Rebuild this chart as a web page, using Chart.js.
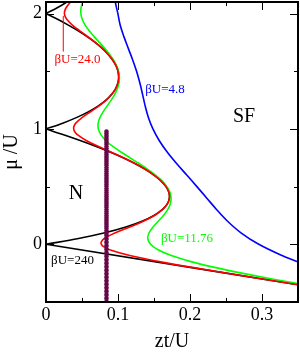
<!DOCTYPE html>
<html>
<head>
<meta charset="utf-8">
<script src="https://cdn.jsdelivr.net/npm/chart.js@4.4.1/dist/chart.umd.min.js"></script>
<style>
  body { margin: 0; background: #fff; }
  canvas { display: block; }
</style>
</head>
<body>
<canvas id="phaseChart" width="300" height="354"></canvas>
<script>
// boundary curves, mu/U on the vertical axis, zt/U on the horizontal one
// betaU = 240 (black), drawn as separate branches so the cusps stay sharp
const muLobe0 = [-0.5, 0];
const ztLobe0 = [0.5, 0];
const muLobe1 = [0, 0.05, 0.1, 0.15, 0.2, 0.25, 0.3, 0.35, 0.4, 0.45, 0.5, 0.55, 0.6, 0.65, 0.7, 0.75, 0.8, 0.85, 0.9, 0.95, 1];
const ztLobe1 = [0, 0.0452, 0.0818, 0.1109, 0.1333, 0.15, 0.1615, 0.1685, 0.1714, 0.1707, 0.1667, 0.1597, 0.15, 0.1379, 0.1235, 0.1071, 0.0889, 0.0689, 0.0474, 0.0244, 0];
const muLobe2 = [1, 1.05, 1.1, 1.15, 1.2, 1.25, 1.3, 1.35, 1.4, 1.45, 1.5, 1.55, 1.6, 1.65, 1.7, 1.75, 1.8, 1.85, 1.9, 1.95, 2];
const ztLobe2 = [0, 0.0232, 0.0429, 0.0593, 0.0727, 0.0833, 0.0913, 0.0968, 0.1, 0.101, 0.1, 0.0971, 0.0923, 0.0858, 0.0778, 0.0682, 0.0571, 0.0447, 0.031, 0.0161, 0];
const muLobe3 = [2, 2.05, 2.1, 2.15];
const ztLobe3 = [0, 0.0156, 0.029, 0.0405];

// betaU = 24.0 (red)
const muRed = [-0.5, -0.4, -0.3, -0.2, -0.15, -0.1, -0.05, -0.02, 0, 0.02, 0.05, 0.1, 0.15, 0.2, 0.25, 0.3, 0.35, 0.4,
  0.45, 0.5, 0.55, 0.6, 0.65, 0.7, 0.75, 0.8, 0.85, 0.9, 0.95, 0.98, 1, 1.02, 1.05, 1.1, 1.15, 1.2, 1.25, 1.3,
  1.35, 1.4, 1.45, 1.5, 1.55, 1.6, 1.65, 1.7, 1.75, 1.8, 1.85, 1.9, 1.95, 1.98, 2, 2.02, 2.05, 2.1, 2.15];
const ztRed = [0.5, 0.4, 0.3004, 0.2028, 0.1573, 0.1178, 0.0894, 0.0799, 0.0769, 0.0767, 0.0809, 0.0964, 0.1163, 0.1352, 0.1506, 0.1617, 0.1686, 0.1714,
  0.1707, 0.1667, 0.1597, 0.15, 0.1379, 0.1237, 0.1076, 0.0901, 0.0723, 0.0558, 0.0436, 0.0395, 0.0385, 0.0387, 0.0414, 0.0505, 0.0622, 0.0737, 0.0837, 0.0914,
  0.0968, 0.1, 0.101, 0.1, 0.0971, 0.0923, 0.0858, 0.0779, 0.0685, 0.0579, 0.0469, 0.0366, 0.0288, 0.0263, 0.0256, 0.0259, 0.0279, 0.0342, 0.0424];

// betaU = 11.76 (green)
const muGreen = [-0.5, -0.4, -0.3, -0.25, -0.2, -0.15, -0.1, -0.05, 0, 0.05, 0.1, 0.15, 0.2, 0.25, 0.3, 0.35, 0.4,
  0.45, 0.5, 0.55, 0.6, 0.65, 0.7, 0.75, 0.8, 0.85, 0.9, 0.95, 1, 1.05, 1.1, 1.15, 1.2, 1.25, 1.3, 1.35, 1.4,
  1.45, 1.5, 1.55, 1.6, 1.65, 1.7, 1.75, 1.8, 1.85, 1.9, 1.95, 2, 2.05, 2.1, 2.15];
const ztGreen = [0.502, 0.405, 0.3138, 0.2717, 0.2339, 0.2012, 0.175, 0.1563, 0.1453, 0.1414, 0.1432, 0.1487, 0.1559, 0.1631, 0.169, 0.1726, 0.1737,
  0.1722, 0.1679, 0.1611, 0.1521, 0.1412, 0.1292, 0.1165, 0.104, 0.0924, 0.0829, 0.0762, 0.0727, 0.0725, 0.075, 0.0795, 0.085, 0.0906, 0.0955, 0.0992, 0.1014,
  0.1019, 0.1008, 0.0979, 0.0935, 0.0879, 0.0814, 0.0741, 0.0668, 0.06, 0.0543, 0.0503, 0.0484, 0.0487, 0.0508, 0.0543];

// betaU = 4.8 (blue)
const muBlue = [-0.2, -0.15, -0.1, 0, 0.1, 0.2, 0.3, 0.4, 0.5, 0.6, 0.7, 0.8, 0.9, 1, 1.1, 1.2, 1.3, 1.4, 1.5, 1.6, 1.7, 1.8, 1.9, 2, 2.1, 2.2];
const ztBlue = [0.372, 0.3488, 0.3286, 0.2955, 0.2708, 0.2522, 0.2371, 0.2234, 0.2096, 0.1955, 0.1814, 0.1683, 0.1572, 0.1485, 0.1422, 0.1377, 0.1341, 0.1303, 0.1258, 0.1203, 0.1142, 0.1082, 0.103, 0.0998, 0.0963, 0.0947];

// the dotted vertical cut: dense part on top, looser dots below
const muCutUpper = [0.1, 0.977];
const muCutLower = [-0.5, 0.1];
const ztCut = [0.084, 0.084];

// axes
const xMajorTicks = [0, 0.1, 0.2, 0.3];
const xMinorTicks = [0.05, 0.15, 0.25];
const xTickLabels = ['0', '0.1', '0.2', '0.3'];
const yMajorTicks = [0, 1, 2];
const yMinorTicks = [-0.5, 0.5, 1.5];
const yTickLabels = ['0', '1', '2'];

const serif = '"Liberation Serif", "Times New Roman", serif';

function toPoints(mu, zt) {
    return mu.map((m, i) => ({ x: zt[i], y: m }));
}

function curve(mu, zt, color) {
    return {
        data: toPoints(mu, zt),
        showLine: true,
        borderColor: color,
        borderWidth: 1.6,
        pointRadius: 0,
        pointHoverRadius: 0,
        tension: 0.35
    };
}

function dots(mu, gap) {
    return {
        data: toPoints(mu, ztCut),
        showLine: true,
        borderColor: '#670748',
        borderWidth: 4.6,
        borderDash: [0.5, gap],
        borderCapStyle: 'round',
        pointRadius: 0,
        tension: 0
    };
}

function labelFor(values, labels) {
    return value => {
        const i = values.findIndex(v => Math.abs(v - value) < 1e-6);
        return i >= 0 ? labels[i] : '';
    };
}

// first dataset ends up on top
const datasets = [
    dots(muCutUpper, 1.6),
    dots(muCutLower, 3.0),
    curve(muRed, ztRed, '#ff0000'),
    curve(muGreen, ztGreen, '#00ff00'),
    curve(muLobe0, ztLobe0, '#000000'),
    curve(muLobe1, ztLobe1, '#000000'),
    curve(muLobe2, ztLobe2, '#000000'),
    curve(muLobe3, ztLobe3, '#000000'),
    curve(muBlue, ztBlue, '#0000ff')
];

// box round the plot with inward ticks on all four sides
const framePlugin = {
    id: 'frame',
    afterDraw(chart) {
        const { ctx, chartArea: a, scales } = chart;
        ctx.save();
        ctx.strokeStyle = '#000';
        ctx.lineWidth = 1;
        const tick = (x1, y1, x2, y2) => {
            ctx.beginPath();
            ctx.moveTo(x1, y1);
            ctx.lineTo(x2, y2);
            ctx.stroke();
        };
        [[xMajorTicks, 8], [xMinorTicks, 4]].forEach(([vals, len]) => {
            vals.forEach(v => {
                const px = Math.round(scales.x.getPixelForValue(v)) + 0.5;
                tick(px, a.bottom, px, a.bottom - len);
                tick(px, a.top, px, a.top + len);
            });
        });
        [[yMajorTicks, 8], [yMinorTicks, 4]].forEach(([vals, len]) => {
            vals.forEach(v => {
                const py = Math.round(scales.y.getPixelForValue(v)) + 0.5;
                tick(a.left, py, a.left + len, py);
                tick(a.right, py, a.right - len, py);
            });
        });
        ctx.lineWidth = 2;
        ctx.strokeRect(a.left, a.top, a.right - a.left, a.bottom - a.top);
        ctx.restore();
    }
};

const notes = [
    { text: 'βU=24.0', x: 0.0437, y: 1.6, color: '#ff0000', size: 13 },
    { text: 'βU=4.8', x: 0.1653, y: 1.339, color: '#0000ff', size: 13 },
    { text: 'SF', x: 0.275, y: 1.104, color: '#000000', size: 20 },
    { text: 'N', x: 0.0417, y: 0.435, color: '#000000', size: 20 },
    { text: 'βU=11.76', x: 0.1958, y: 0.052, color: '#00ff00', size: 13 },
    { text: 'βU=240', x: 0.0368, y: -0.139, color: '#000000', size: 13 }
];

const notesPlugin = {
    id: 'notes',
    afterDraw(chart) {
        const { ctx, scales } = chart;
        ctx.save();
        ctx.textAlign = 'center';
        ctx.textBaseline = 'middle';
        notes.forEach(n => {
            ctx.fillStyle = n.color;
            ctx.font = n.size + 'px ' + serif;
            ctx.fillText(n.text, scales.x.getPixelForValue(n.x), scales.y.getPixelForValue(n.y));
        });
        // pointer from the betaU=24.0 label to its curve
        const lx = scales.x.getPixelForValue(0.024);
        ctx.strokeStyle = '#ff0000';
        ctx.lineWidth = 1;
        ctx.beginPath();
        ctx.moveTo(lx, scales.y.getPixelForValue(1.98));
        ctx.lineTo(lx, scales.y.getPixelForValue(1.67));
        ctx.stroke();
        ctx.restore();
    }
};

new Chart(document.getElementById('phaseChart'), {
    type: 'scatter',
    data: { datasets },
    options: {
        responsive: false,
        animation: false,
        layout: { padding: { top: 2, right: 2, left: 0, bottom: 0 } },
        plugins: { legend: { display: false }, tooltip: { enabled: false } },
        scales: {
            x: {
                type: 'linear',
                min: 0,
                max: 0.35,
                grid: { display: false, drawTicks: false },
                border: { display: false },
                ticks: {
                    stepSize: 0.05,
                    includeBounds: false,
                    autoSkip: false,
                    maxRotation: 0,
                    padding: 2,
                    color: '#000',
                    font: { family: serif, size: 18 },
                    callback: labelFor(xMajorTicks, xTickLabels)
                },
                title: { display: true, text: 'zt/U', color: '#000', font: { family: serif, size: 20 }, padding: 0 },
                afterFit: s => {
                    s.height = 52;
                    s.paddingLeft = 0;
                    s.paddingRight = 0;
                }
            },
            y: {
                type: 'linear',
                min: -0.5,
                max: 2.1,
                grid: { display: false, drawTicks: false },
                border: { display: false },
                ticks: {
                    stepSize: 0.5,
                    includeBounds: false,
                    autoSkip: false,
                    padding: 4,
                    color: '#000',
                    font: { family: serif, size: 18 },
                    callback: labelFor(yMajorTicks, yTickLabels)
                },
                title: { display: true, text: 'μ /U', color: '#000', font: { family: serif, size: 20 }, padding: 0 },
                afterFit: s => {
                    s.width = 46;
                    s.paddingTop = 0;
                    s.paddingBottom = 0;
                }
            }
        }
    },
    plugins: [framePlugin, notesPlugin]
});
</script>
</body>
</html>
